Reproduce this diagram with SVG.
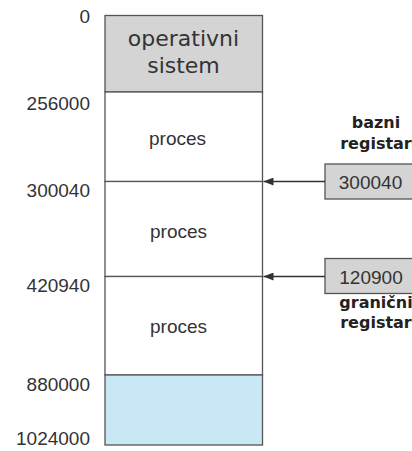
<svg xmlns="http://www.w3.org/2000/svg" width="412" height="451" viewBox="0 0 412 451">
<style>
.seg{stroke:#555;stroke-width:1.3}
.num{font-family:"Liberation Sans",Arial,sans-serif;font-size:19px;fill:#333;text-anchor:end}
.lbl{font-family:"Liberation Sans",Arial,sans-serif;font-size:19px;fill:#333;text-anchor:middle}
.os{font-family:"DejaVu Sans",sans-serif;font-size:22px;fill:#333;text-anchor:middle}
.reg{font-family:"DejaVu Sans",sans-serif;font-weight:bold;font-size:16px;fill:#222;text-anchor:middle}
.conn{stroke:#333;stroke-width:1.5;fill:none}
</style>
<defs>
<marker id="ah" markerWidth="10" markerHeight="8" refX="10" refY="4" orient="auto" markerUnits="userSpaceOnUse">
<path d="M0,0 L10,4 L0,8 Z" fill="#333"/>
</marker>
</defs>
<rect width="412" height="451" fill="#fff"/>
<g id="memory">
<g id="os-seg"><rect class="seg" x="105" y="15.5" width="157.5" height="76.5" fill="#d4d4d4"/>
<text class="os" x="183.5" y="46">operativni</text><text class="os" x="183.5" y="73">sistem</text></g>
<g id="proc1"><rect class="seg" x="105" y="92" width="157.5" height="89.5" fill="#fff"/>
<text class="lbl" x="177.5" y="145">proces</text></g>
<g id="proc2"><rect class="seg" x="105" y="181.5" width="157.5" height="95" fill="#fff"/>
<text class="lbl" x="178.5" y="238">proces</text></g>
<g id="proc3"><rect class="seg" x="105" y="276.5" width="157.5" height="98.5" fill="#fff"/>
<text class="lbl" x="178.5" y="333">proces</text></g>
<g id="free"><rect class="seg" x="105" y="375" width="157.5" height="70" fill="#c8e8f6"/></g>
</g>
<g id="addresses">
<text class="num" x="90" y="23">0</text>
<text class="num" x="90" y="110">256000</text>
<text class="num" x="90" y="197">300040</text>
<text class="num" x="90" y="292">420940</text>
<text class="num" x="90" y="391">880000</text>
<text class="num" x="90" y="445">1024000</text>
</g>
<g id="base-reg">
<text class="reg" x="376" y="128">bazni</text>
<text class="reg" x="376" y="149">registar</text>
<rect class="seg" x="325" y="164" width="95" height="35" fill="#d4d4d4"/>
<text class="lbl" x="370.5" y="189">300040</text>
</g>
<g id="limit-reg">
<rect class="seg" x="325" y="258.5" width="95" height="35" fill="#d4d4d4"/>
<text class="lbl" x="371" y="283.5">120900</text>
<text class="reg" x="376" y="308">granični</text>
<text class="reg" x="376" y="328">registar</text>
</g>
<g id="connectors">
<line class="conn" x1="325" y1="181.5" x2="263.5" y2="181.5" marker-end="url(#ah)"/>
<line class="conn" x1="325" y1="276.5" x2="263.5" y2="276.5" marker-end="url(#ah)"/>
</g>
</svg>
